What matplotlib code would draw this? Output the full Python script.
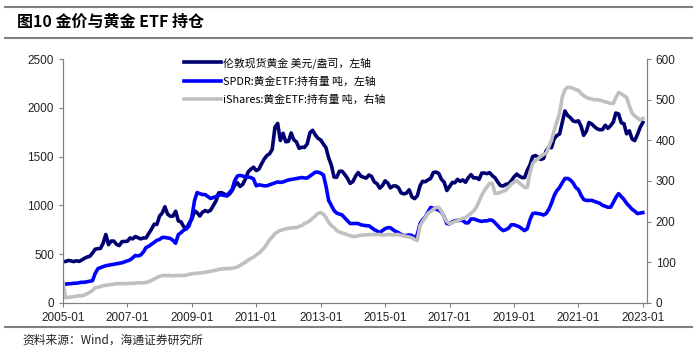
import matplotlib.pyplot as plt
import matplotlib.dates as mdates
from matplotlib.lines import Line2D
import pandas as pd

plt.rcParams['font.family'] = ['Liberation Sans', 'Noto Sans CJK SC', 'DejaVu Sans']

# 月度数据 2005-01 ~ 2023-01
dates = pd.date_range('2005-01-01', '2023-01-01', freq='MS')

# 伦敦现货黄金 美元/盎司
gold = [424, 423, 434, 429, 422, 431, 424, 438, 456, 469, 476, 510,
        549, 555, 557, 610, 700, 596, 633, 632, 598, 586, 627, 629,
        631, 665, 655, 679, 667, 655, 665, 665, 712, 754, 806, 803,
        889, 922, 985, 909, 888, 889, 939, 839, 829, 780, 760, 816,
        858, 943, 925, 890, 928, 946, 934, 949, 996, 1043, 1127, 1130,
        1118, 1095, 1113, 1149, 1205, 1232, 1193, 1215, 1271, 1343, 1370, 1391,
        1356, 1372, 1424, 1474, 1510, 1529, 1573, 1800, 1840, 1665, 1739, 1652,
        1656, 1742, 1673, 1650, 1585, 1596, 1594, 1630, 1745, 1770, 1721, 1688,
        1670, 1627, 1593, 1487, 1414, 1290, 1287, 1349, 1349, 1316, 1275, 1225,
        1244, 1300, 1336, 1299, 1288, 1279, 1311, 1296, 1239, 1222, 1176, 1201,
        1251, 1227, 1179, 1198, 1199, 1181, 1128, 1117, 1125, 1159, 1086, 1068,
        1097, 1200, 1246, 1242, 1261, 1276, 1337, 1341, 1326, 1266, 1236, 1152,
        1192, 1234, 1231, 1266, 1246, 1260, 1236, 1283, 1315, 1280, 1283, 1265,
        1331, 1331, 1325, 1335, 1303, 1282, 1238, 1202, 1198, 1215, 1221, 1250,
        1291, 1320, 1300, 1285, 1284, 1359, 1413, 1500, 1510, 1495, 1471, 1480,
        1560, 1597, 1591, 1683, 1716, 1732, 1847, 1968, 1921, 1900, 1866, 1858,
        1867, 1808, 1718, 1760, 1850, 1834, 1807, 1785, 1775, 1777, 1821, 1790,
        1817, 1856, 1947, 1937, 1848, 1837, 1733, 1764, 1681, 1664, 1726, 1798,
        1850]

# SPDR 持有量 吨（左轴）
spdr = [185, 190, 195, 195, 200, 200, 205, 210, 210, 215, 220, 226,
        300, 350, 360, 370, 380, 385, 390, 395, 400, 405, 410, 420,
        430, 440, 460, 485, 480, 490, 520, 567, 580, 600, 620, 640,
        650, 670, 670, 665, 660, 640, 610, 700, 720, 745, 760, 790,
        880, 1050, 1130, 1120, 1110, 1110, 1090, 1070, 1080, 1090, 1100, 1110,
        1100, 1100, 1130, 1160, 1250, 1300, 1307, 1300, 1290, 1290, 1285, 1270,
        1200, 1210, 1205, 1200, 1200, 1210, 1220, 1230, 1240, 1235, 1240, 1250,
        1260, 1265, 1270, 1275, 1280, 1285, 1280, 1280, 1300, 1320, 1340, 1340,
        1330, 1310, 1200, 1050, 1000, 947, 920, 910, 900, 870, 840, 813,
        813, 813, 813, 800, 795, 790, 790, 770, 750, 735, 720, 740,
        760, 770, 770, 750, 730, 720, 700, 690, 690, 695, 690, 660,
        700, 813, 850, 880, 930, 978, 970, 960, 950, 930, 880, 813,
        810, 830, 840, 845, 845, 845, 820, 820, 860, 860, 850, 840,
        835, 840, 840, 850, 845, 820, 790, 760, 740, 750, 765, 800,
        800, 790, 780, 760, 740, 760, 850, 915, 920, 915, 910, 900,
        915, 960, 1020, 1100, 1150, 1183, 1230, 1275, 1275, 1260, 1230, 1183,
        1160, 1100, 1060, 1050, 1050, 1050, 1040, 1030, 1020, 1000, 990, 980,
        980, 1030, 1080, 1120, 1090, 1060, 1020, 990, 960, 940, 915, 920,
        925]

# iShares 持有量 吨（右轴）
ishares = [50, 12, 13, 14, 15, 16, 17, 17, 19, 22, 26, 30,
           37, 38, 40, 42, 43, 44, 45, 46, 47, 47, 47, 47,
           47, 48, 48, 48, 49, 49, 49, 50, 52, 55, 58, 62,
           65, 67, 67, 67, 67, 66, 67, 67, 67, 67, 68, 70,
           71, 72, 73, 73, 74, 75, 76, 77, 79, 80, 82, 83,
           84, 84, 84, 85, 86, 88, 92, 96, 100, 105, 109, 112,
           118, 122, 128, 135, 145, 155, 162, 170, 175, 178, 180, 182,
           183, 184, 185, 185, 188, 190, 195, 198, 202, 208, 214, 220,
           222, 218, 210, 198, 190, 185, 178, 174, 172, 170, 167, 165,
           163, 163, 165, 166, 167, 167, 168, 168, 168, 168, 168, 167,
           167, 168, 168, 167, 168, 168, 166, 165, 163, 162, 160, 156,
           153, 190, 200, 210, 220, 225, 230, 235, 235, 225, 210, 200,
           195, 197, 200, 202, 205, 208, 210, 215, 220, 226, 235, 250,
           265, 277, 285, 294, 294, 269, 270, 272, 275, 277, 285, 292,
           297, 301, 295, 290, 284, 284, 320, 343, 350, 355, 360, 365,
           368, 385, 400, 425, 445, 467, 506, 525, 531, 530, 528, 525,
           523, 515, 510, 506, 503, 502, 500, 500, 499, 497, 495, 493,
           491, 491, 505, 518, 515, 510, 506, 485, 467, 460, 455, 450,
           454]

labels = ['伦敦现货黄金 美元/盎司，左轴',
          'SPDR:黄金ETF:持有量 吨，左轴',
          'iShares:黄金ETF:持有量 吨，右轴']

fig = plt.figure(figsize=(7, 3.52), dpi=100)
ax = fig.add_axes([0.09, 0.14, 0.834, 0.692])
ax2 = ax.twinx()

l1, = ax.plot(dates, gold, color='#000070', lw=2.6)
l2, = ax.plot(dates, spdr, color='#0000FF', lw=2.6)
l3, = ax2.plot(dates, ishares, color='#C0C0C0', lw=2.6)

ax.set_ylim(0, 2500)
ax2.set_ylim(0, 600)
ax.set_yticks(range(0, 2501, 500))
ax2.set_yticks(range(0, 601, 100))
ax.set_xlim(pd.Timestamp('2005-01-01'), pd.Timestamp('2023-02-15'))
ax.set_xticks(pd.date_range('2005-01-01', '2023-01-01', freq='24MS'))
ax.xaxis.set_major_formatter(mdates.DateFormatter('%Y-%m'))

for a in (ax, ax2):
    a.spines['top'].set_visible(False)
    for s in a.spines.values():
        s.set_color('#808080')
    a.tick_params(colors='#808080', labelcolor='#222222', labelsize=8.5,
                  length=3, direction='out')

leg = ax2.legend([l1, l2, l3], labels, loc='upper left',
                 bbox_to_anchor=(0.19, 1.05), frameon=False,
                 prop={'family': ['Noto Sans CJK SC'], 'size': 7.8},
                 handlelength=3.4, handletextpad=0.2, labelspacing=0.7)

# 标题与分隔线
fig.text(0.024, 0.937, '图10 金价与黄金 ETF 持仓', fontsize=11.5, fontweight='bold',
         family=['Noto Sans CJK SC'], va='center', ha='left')
fig.text(0.032, 0.034, '资料来源：Wind，海通证券研究所', fontsize=8.5,
         family=['Noto Sans CJK SC'], va='center', ha='left', color='#222222')
for y in (0.980, 0.892, 0.071):
    fig.add_artist(Line2D([0.007, 0.989], [y, y], color='#808080', lw=1.5))

fig.savefig('out.png', dpi=100)
